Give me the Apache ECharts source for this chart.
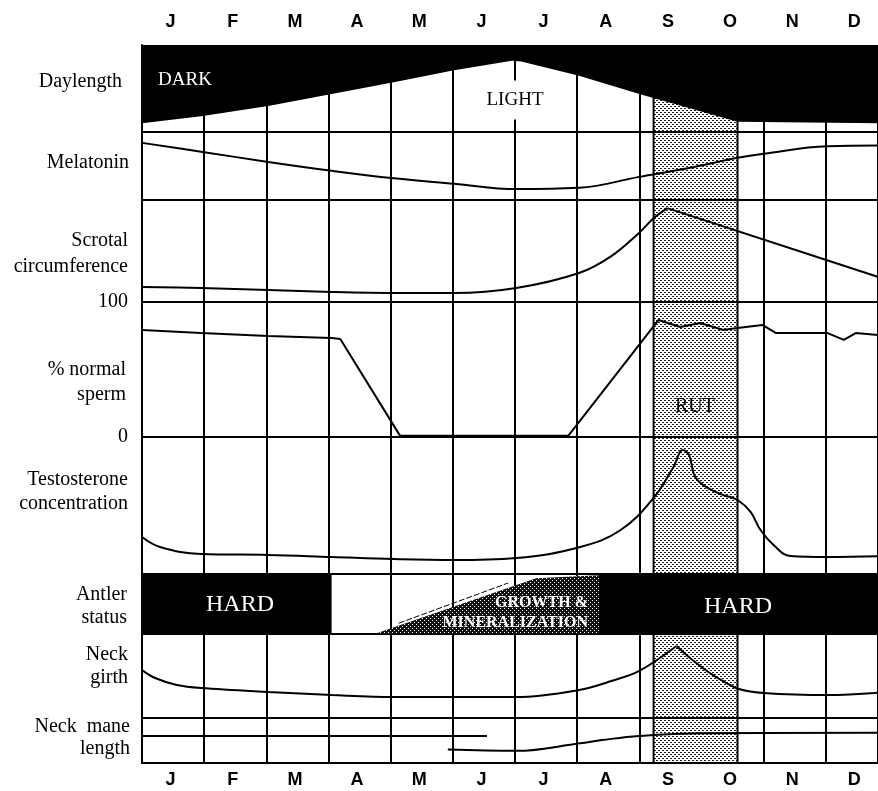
<!DOCTYPE html>
<html>
<head>
<meta charset="utf-8">
<script src="https://cdn.jsdelivr.net/npm/echarts@6/dist/echarts.min.js"></script>
<style>
html, body { margin: 0; padding: 0; background: #fff; }
#chart { width: 878px; height: 791px; }
</style>
</head>
<body>
<div id="chart"></div>
<script>
// x values are months from the start of January (0); the page cuts off just before the end of December
const months = [ 'J', 'F', 'M', 'A', 'M', 'J', 'J', 'A', 'S', 'O', 'N', 'D' ];

// hours of light
const daylength = [ [ 0, 8.1 ], [ 0.95, 9.0 ], [ 2.03, 10.3 ], [ 3.05, 11.8 ], [ 4.05, 13.3 ], [ 5.02, 14.8 ],
	[ 5.95, 16.0 ], [ 6.1, 15.9 ], [ 7.03, 14.1 ], [ 8.0, 11.8 ], [ 9.58, 8.3 ], [ 12, 8.1 ] ];

// relative levels, 0 - 100 of the row
const melatonin = [ [ 0, 84 ], [ 0.95, 71 ], [ 2.03, 56 ], [ 3.05, 43 ], [ 4.05, 32 ], [ 5.02, 24 ], [ 6.02, 16 ],
	[ 7.03, 18 ], [ 8.0, 34 ], [ 8.8, 47 ], [ 9.58, 62 ], [ 10.0, 68 ], [ 11.03, 79 ], [ 12, 80 ] ];
const scrotalRise = [ [ 0, 14.7 ], [ 0.95, 13.7 ], [ 2.03, 11.8 ], [ 3.05, 9.8 ], [ 4.05, 8.8 ], [ 5.02, 8.8 ],
	[ 6.02, 13.7 ], [ 7.03, 28.4 ], [ 7.55, 45 ], [ 8.0, 68 ], [ 8.23, 82 ], [ 8.45, 92 ] ];
const scrotalFall = [ [ 8.45, 92 ], [ 12, 21.5 ] ];
const spermNormal = [ [ 0, 79.3 ], [ 0.95, 77 ], [ 2.03, 74.8 ], [ 3.05, 73.3 ], [ 3.19, 72.6 ], [ 4.15, 1 ],
	[ 6.86, 1 ], [ 8.31, 86.7 ], [ 8.66, 81.5 ], [ 8.98, 84.4 ], [ 9.35, 79.3 ], [ 9.58, 80.7 ], [ 9.98, 83 ],
	[ 10.2, 77 ], [ 11.03, 77 ], [ 11.29, 71.9 ], [ 11.48, 77 ], [ 12, 74.8 ] ];
const spermTicks = [ 0, 100 ];
const testosterone = [ [ 0, 27 ], [ 0.29, 19.7 ], [ 0.95, 14.6 ], [ 2.03, 13.9 ], [ 3.05, 12.4 ], [ 4.05, 10.9 ],
	[ 5.02, 10.2 ], [ 6.02, 11.7 ], [ 7.05, 19.7 ], [ 7.7, 32.1 ], [ 8.23, 55.5 ], [ 8.55, 78.1 ], [ 8.7, 90.5 ],
	[ 8.8, 86.9 ], [ 8.9, 70.8 ], [ 9.1, 62.8 ], [ 9.35, 57.7 ], [ 9.58, 54 ], [ 9.79, 45.3 ], [ 9.95, 32.1 ],
	[ 10.16, 21.2 ], [ 10.43, 13.1 ], [ 11.03, 12.4 ], [ 12, 13.1 ] ];
const neckGirthRise = [ [ 0, 57 ], [ 0.21, 47.6 ], [ 0.56, 39.3 ], [ 0.95, 35.7 ], [ 2.03, 31 ], [ 3.05, 27.4 ],
	[ 4.05, 25 ], [ 5.02, 25 ], [ 6.02, 25 ], [ 7.03, 33.3 ], [ 7.55, 44 ], [ 8.0, 56 ], [ 8.6, 85.7 ] ];
const neckGirthFall = [ [ 8.6, 85.7 ], [ 8.84, 70 ], [ 9.11, 54.8 ], [ 9.37, 42.9 ], [ 9.6, 34.5 ], [ 10.0, 29.8 ],
	[ 11.03, 27.4 ], [ 12, 31 ] ];
const neckManeOld = [ [ 0, 60 ], [ 5.55, 60 ] ];
const neckManeNew = [ [ 4.92, 30 ], [ 6.02, 27 ], [ 7.05, 44 ], [ 7.4, 51 ], [ 8.0, 60 ], [ 9.0, 66 ], [ 12, 67 ] ];

// antler phases (month ranges) and growth wedge (0 - 1 of the row)
const antlerHard = [ [ 0, 3.05 ], [ 7.35, 12 ] ];
const antlerGrowth = [ [ 3.74, 0 ], [ 6.34, 0.93 ], [ 7.35, 0.98 ] ];
const antlerGrowthEdge = [ [ 4.13, 0.18 ], [ 5.89, 0.85 ] ];
const rutPeriod = [ 8.23, 9.58 ];

const rowTitles = [ 'Daylength', 'Melatonin', 'Scrotal\ncircumference', '% normal\nsperm',
	'Testosterone\nconcentration', 'Antler\nstatus', 'Neck\ngirth', 'Neck  mane\nlength' ];

// layout
const X_MAX = 11.84;
const rows = [
	{ top: 45, height: 87, min: 7, max: 18, titleX: 122, titleY: 82 },
	{ top: 132, height: 68, min: 0, max: 100, titleX: 129, titleY: 163 },
	{ top: 200, height: 102, min: 0, max: 100, titleX: 128, titleY: 254, lineHeight: 26 },
	{ top: 302, height: 135, min: 0, max: 100, titleX: 126, titleY: 382, lineHeight: 25 },
	{ top: 437, height: 137, min: 0, max: 100, titleX: 128, titleY: 492, lineHeight: 24 },
	{ top: 574, height: 60, min: 0, max: 1, titleX: 127, titleY: 606, lineHeight: 23 },
	{ top: 634, height: 84, min: 0, max: 100, titleX: 128, titleY: 666, lineHeight: 23 },
	{ top: 718, height: 45, min: 0, max: 100, titleX: 130, titleY: 738, lineHeight: 22 }
];
const SERIF = '"Liberation Serif", "Times New Roman", serif';
const SANS = '"Liberation Sans", Arial, sans-serif';
const ANTLER_ROW = 5;

function makePattern( size, bg, fg, dots ) {
	const canvas = document.createElement( 'canvas' );
	canvas.width = size;
	canvas.height = size;
	const ctx = canvas.getContext( '2d' );
	ctx.fillStyle = bg;
	ctx.fillRect( 0, 0, size, size );
	ctx.fillStyle = fg;
	dots.forEach( ( d ) => ctx.fillRect( d[ 0 ], d[ 1 ], 1, 1 ) );
	return { image: canvas, repeat: 'repeat' };
}

const rutFill = makePattern( 4, '#ffffff', '#1a1a1a', [ [ 0, 0 ], [ 1, 0 ], [ 2, 2 ], [ 3, 2 ] ] );
const growthFill = makePattern( 4, '#111111', '#ffffff', [ [ 0, 0 ], [ 2, 2 ] ] );

const grids = rows.map( ( r ) => ( { left: 142, right: 0, top: r.top, height: r.height } ) );

const xAxes = rows.map( ( r, i ) => ( {
	gridIndex: i,
	type: 'value',
	min: 0,
	max: X_MAX,
	interval: 1,
	axisLabel: { show: false },
	axisTick: { show: false },
	axisLine: { show: true, lineStyle: { color: '#000', width: 2 } },
	splitLine: { show: true, lineStyle: { color: '#000', width: 2 } }
} ) );

// month letters on top and bottom, placed at the middle of each month
[ [ 0, 'top', 14 ], [ rows.length - 1, 'bottom', 8 ] ].forEach( ( [ gridIndex, position, margin ] ) => {
	xAxes.push( {
		gridIndex: gridIndex,
		type: 'value',
		position: position,
		min: 0,
		max: X_MAX,
		interval: 0.5,
		axisLine: { show: false },
		axisTick: { show: false },
		splitLine: { show: false },
		axisLabel: {
			margin: margin,
			padding: [ 0, 5, 0, 0 ],
			fontFamily: SANS,
			fontWeight: 'bold',
			fontSize: 18,
			color: '#000',
			showMinLabel: false,
			showMaxLabel: false,
			formatter: ( v ) => ( Math.abs( v % 1 - 0.5 ) < 0.01 ? months[ Math.floor( v ) ] : '' )
		}
	} );
} );

const yAxes = rows.map( ( r, i ) => {
	const axis = {
		gridIndex: i,
		type: 'value',
		min: r.min,
		max: r.max,
		axisTick: { show: false },
		axisLabel: { show: false },
		splitLine: { show: false },
		axisLine: { show: true, lineStyle: { color: '#000', width: 2 } }
	};
	if ( i === 3 ) {
		axis.interval = spermTicks[ 1 ] - spermTicks[ 0 ];
		axis.axisLabel = { show: true, margin: 14, fontFamily: SERIF, fontSize: 20, color: '#000' };
	}
	return axis;
} );

function rutArea( row ) {
	const start = { xAxis: rutPeriod[ 0 ] };
	const end = { xAxis: rutPeriod[ 1 ] };
	if ( row === 0 ) {
		// keep the band under the dark part of the daylength row
		start.yAxis = rows[ 0 ].min;
		end.yAxis = rows[ 0 ].max - 2;
	}
	return {
		silent: true,
		itemStyle: { color: rutFill, borderColor: '#000', borderWidth: 2 },
		data: [ [ start, end ] ]
	};
}

function curve( rowIndex, data, extra ) {
	return Object.assign( {
		type: 'line',
		xAxisIndex: rowIndex,
		yAxisIndex: rowIndex,
		data: data,
		symbol: 'none',
		silent: true,
		lineStyle: { color: '#000', width: 2 },
		z: 3
	}, extra || {} );
}

const series = [
	curve( 0, daylength, {
		lineStyle: { width: 0 },
		areaStyle: { color: '#000', opacity: 1, origin: 'end' },
		markArea: rutArea( 0 ),
		z: 2
	} ),
	curve( 1, melatonin, { smooth: 0.4, markArea: rutArea( 1 ) } ),
	curve( 2, scrotalRise, { smooth: 0.35, markArea: rutArea( 2 ) } ),
	curve( 2, scrotalFall ),
	curve( 3, spermNormal, { markArea: rutArea( 3 ) } ),
	curve( 4, testosterone, { smooth: 0.4, markArea: rutArea( 4 ) } ),
	curve( 6, neckGirthRise, { smooth: 0.35, markArea: rutArea( 6 ) } ),
	curve( 6, neckGirthFall, { smooth: 0.35 } ),
	curve( 7, neckManeOld ),
	curve( 7, neckManeNew, { smooth: 0.4, markArea: rutArea( 7 ) } ),
	curve( ANTLER_ROW, antlerGrowth, {
		lineStyle: { width: 0 },
		areaStyle: { color: growthFill, opacity: 1, origin: 'start' }
	} ),
	curve( ANTLER_ROW, antlerGrowthEdge, { lineStyle: { color: '#000', width: 1, type: [ 6, 2 ] } } )
];

antlerHard.forEach( ( range ) => {
	series.push( curve( ANTLER_ROW, [ [ range[ 0 ], 1 ], [ range[ 1 ], 1 ] ], {
		lineStyle: { width: 0 },
		areaStyle: { color: '#000', opacity: 1, origin: 'start' },
		z: 4
	} ) );
} );

const graphics = rows.map( ( r, i ) => ( {
	type: 'text',
	x: r.titleX,
	y: r.titleY,
	style: {
		text: rowTitles[ i ],
		align: 'right',
		verticalAlign: 'middle',
		font: '20px ' + SERIF,
		lineHeight: r.lineHeight || 22,
		fill: '#000'
	}
} ) );

function note( text, x, y, font, fill, more ) {
	graphics.push( {
		type: 'text',
		x: x,
		y: y,
		z: 10,
		style: Object.assign( { text: text, align: 'center', verticalAlign: 'middle', font: font, fill: fill }, more || {} )
	} );
}

note( 'DARK', 185, 80, '19px ' + SERIF, '#fff' );
note( 'LIGHT', 515, 100, '19px ' + SERIF, '#000', { backgroundColor: '#fff', padding: [ 10, 4 ] } );
note( 'RUT', 695, 407, '20px ' + SERIF, '#000' );
note( 'HARD', 240, 605, '24px ' + SERIF, '#fff' );
note( 'HARD', 738, 607, '24px ' + SERIF, '#fff' );
note( 'GROWTH &\nMINERALIZATION', 588, 613, 'bold 16px ' + SERIF, '#fff', { align: 'right', lineHeight: 20 } );

const chart = echarts.init( document.getElementById( 'chart' ), null, { renderer: 'canvas' } );
chart.setOption( {
	animation: false,
	backgroundColor: '#fff',
	grid: grids,
	xAxis: xAxes,
	yAxis: yAxes,
	series: series,
	graphic: graphics
} );
</script>
</body>
</html>
